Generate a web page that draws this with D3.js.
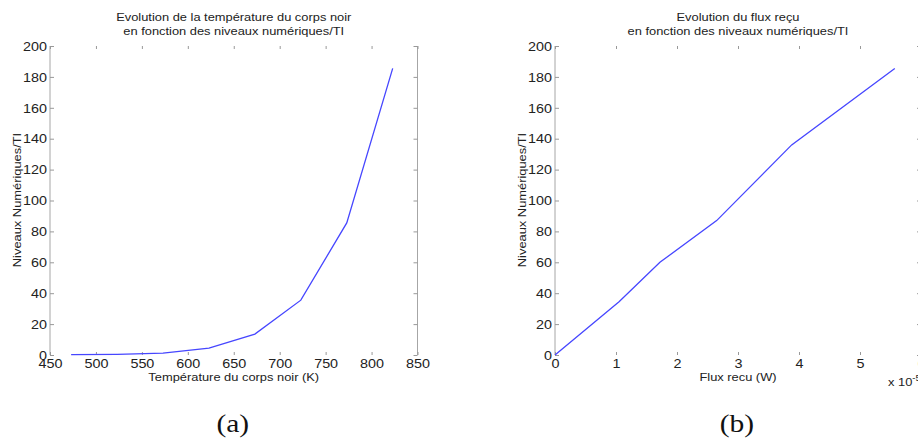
<!DOCTYPE html>
<html><head><meta charset="utf-8">
<script src="https://cdn.jsdelivr.net/npm/d3@7"></script>
<style>
body{margin:0;background:#fff;}
svg{display:block;font-family:"Liberation Sans",Arial,sans-serif;}
</style></head>
<body><svg id="c" width="918" height="443"></svg>
<script>
// ---- data ----
const tempK = [473, 523, 573, 623, 673, 723, 773, 823];
const nivA  = [0.2, 0.4, 1.2, 4.5, 13.5, 35.5, 85.5, 185.5];
const flux  = [0, 1.05, 1.72, 2.65, 3.88, 5.57];      // x 1e-5 W
const nivB  = [0, 34.5, 60, 87, 136, 185.5];
const yTicks = [0, 20, 40, 60, 80, 100, 120, 140, 160, 180, 200];
const xTicksA = [450, 500, 550, 600, 650, 700, 750, 800, 850];
const xTicksB = [0, 1, 2, 3, 4, 5, 6];
const titlesA = ["Evolution de la température du corps noir", "en fonction des niveaux numériques/TI"];
const titlesB = ["Evolution du flux reçu", "en fonction des niveaux numériques/TI"];
const yLabel = "Niveaux Numériques/TI";
const xLabelA = "Température du corps noir (K)";
const xLabelB = "Flux recu (W)";

const svg = d3.select("#c");
const SX = 1.12; // horizontal stretch of label text
const TSX = 1.15;
const txtCol = "#222";
const axCol = "#a6a6a6";

function panel(cfg){
  const x = d3.scaleLinear().domain(cfg.xdom).range([cfg.x0, cfg.x1]);
  const y = d3.scaleLinear().domain([0, 200]).range([355, 46]);
  const g = svg.append("g");
  g.append("line").attr("x1", cfg.x0).attr("x2", cfg.x0).attr("y1", 46).attr("y2", 355)
    .attr("stroke", axCol).attr("stroke-width", 1);
  g.append("line").attr("x1", cfg.x1).attr("x2", cfg.x1).attr("y1", 46).attr("y2", 355)
    .attr("stroke", axCol).attr("stroke-width", 1);
  const fmt = d3.format("d");
  const ax = [
    {a: d3.axisLeft(y).tickValues(yTicks).tickFormat(fmt).tickSize(-4).tickPadding(3), t: `translate(${cfg.x0},0)`, lab: true, side: "l"},
    {a: d3.axisRight(y).tickValues(yTicks).tickSize(-4), t: `translate(${cfg.x1},0)`, lab: false},
    {a: d3.axisBottom(x).tickValues(cfg.xticks).tickFormat(fmt).tickSize(-3).tickPadding(4), t: `translate(0,355)`, lab: true, side: "b"},
    {a: d3.axisTop(x).tickValues(cfg.xticks).tickSize(-3), t: `translate(0,46)`, lab: false}
  ];
  ax.forEach(o => {
    const ag = g.append("g").attr("transform", o.t).call(o.a);
    ag.select(".domain").remove();
    ag.selectAll(".tick line").attr("stroke", "#999");
    if (!o.lab) ag.selectAll(".tick text").remove();
    else {
      ag.selectAll(".tick text").attr("fill", txtCol)
        .style("font-family", '"Liberation Sans",Arial,sans-serif').style("font-size", "12.5px")
        .attr("transform", `scale(${TSX},1)`);
      if (o.side === "l") ag.selectAll(".tick text").attr("x", -3 / TSX).attr("dy", "0.34em");
      else ag.selectAll(".tick text").attr("dy", "0.74em");
    }
  });
  const pts = cfg.xs.map((v, i) => [v, cfg.ys[i]]);
  g.append("path").datum(pts)
    .attr("d", d3.line().x(d => x(d[0])).y(d => y(d[1])))
    .attr("fill", "none").attr("stroke", "#4646ff").attr("stroke-width", 1.3);
  const cx = (cfg.x0 + cfg.x1) / 2;
  cfg.titles.forEach((t, i) => {
    g.append("text").attr("transform", `translate(${cx},${21 + i * 14}) scale(${SX},1)`)
      .attr("text-anchor", "middle").attr("font-size", 11.5).attr("fill", txtCol).text(t);
  });
  g.append("text").attr("transform", `translate(${cx},381) scale(${SX},1)`)
    .attr("text-anchor", "middle").attr("font-size", 11.5).attr("fill", txtCol).text(cfg.xlabel);
  g.append("text").attr("transform", `translate(${cfg.ylx},200) rotate(-90) scale(${SX},1)`)
    .attr("text-anchor", "middle").attr("font-size", 11.5).attr("fill", txtCol).text(yLabel);
  g.append("text").attr("transform", `translate(${cx - 1},432) scale(1.18,1)`)
    .attr("text-anchor", "middle").style("font-family", '"Liberation Serif","Times New Roman",serif')
    .attr("font-size", 25).attr("fill", "#111").text(cfg.sub);
  return {x, y, g};
}

panel({xdom: [450, 850], x0: 50, x1: 417.5, xticks: xTicksA, xs: tempK, ys: nivA,
  titles: titlesA, xlabel: xLabelA, ylx: 21, sub: "(a)"});
const pb = panel({xdom: [0, 6], x0: 555, x1: 921, xticks: xTicksB, xs: flux, ys: nivB,
  titles: titlesB, xlabel: xLabelB, ylx: 526, sub: "(b)"});

const ex = pb.g.append("text").attr("transform", `translate(888,386) scale(${SX},1)`)
  .attr("font-size", 11.5).attr("fill", txtCol);
ex.append("tspan").text("x 10");
ex.append("tspan").attr("dy", -5).attr("font-size", 8.5).text("-5");
</script></body></html>
